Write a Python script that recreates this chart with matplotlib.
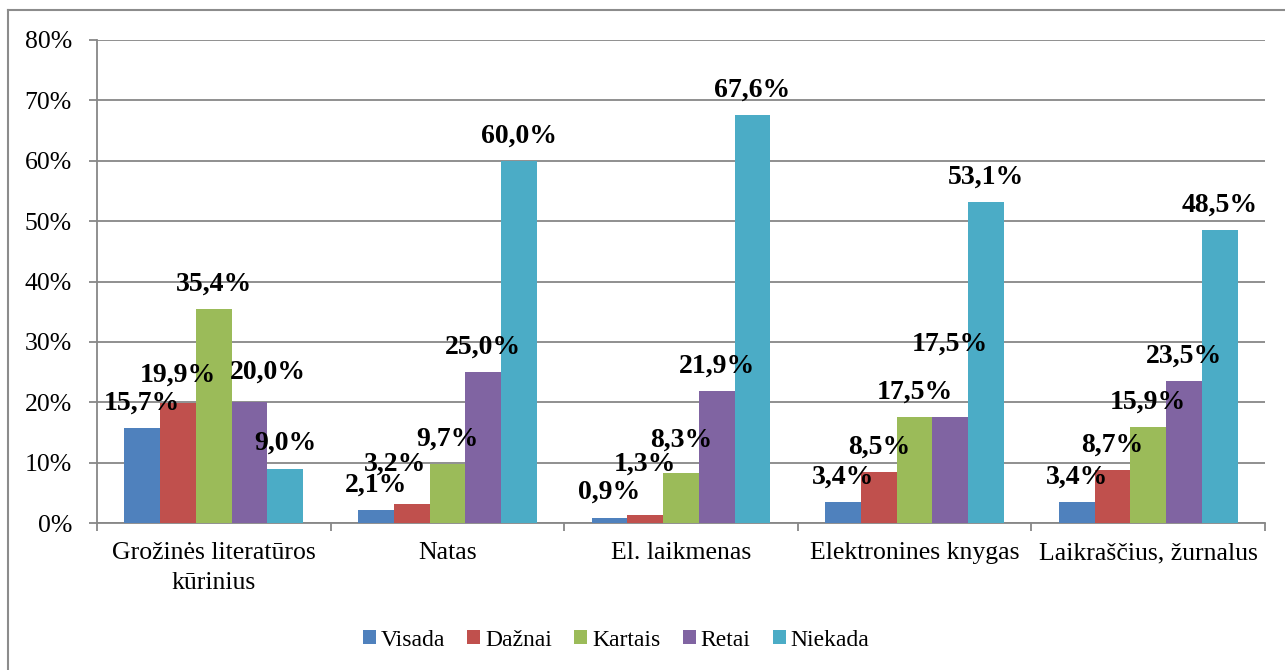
import matplotlib
matplotlib.use("Agg")
import matplotlib.pyplot as plt
import numpy as np
from matplotlib.lines import Line2D
from matplotlib.ticker import FuncFormatter

categories = ["Grožinės literatūros\nkūrinius", "Natas", "El. laikmenas",
              "Elektronines knygas", "Laikraščius, žurnalus"]
series = ["Visada", "Dažnai", "Kartais", "Retai", "Niekada"]
visada = [15.7, 2.1, 0.9, 3.4, 3.4]
daznai = [19.9, 3.2, 1.3, 8.5, 8.7]
kartais = [35.4, 9.7, 8.3, 17.5, 15.9]
retai = [20.0, 25.0, 21.9, 17.5, 23.5]
niekada = [9.0, 60.0, 67.6, 53.1, 48.5]
values = [visada, daznai, kartais, retai, niekada]
colors = ["#4F81BD", "#C0504D", "#9BBB59", "#8064A2", "#4BACC6"]

# label nudges in pixels (series index, category index) -> (dx, dy)
nudges = {(1, 1): (-17, 15), (1, 2): (0, 26), (2, 2): (0, 8), (3, 3): (0, 48),
          (1, 0): (0, 3), (3, 0): (18, 5)}

plt.rcParams['font.family'] = ['Liberation Serif', 'DejaVu Serif']
W, H = 1285, 670
fig = plt.figure(figsize=(W / 100, H / 100), dpi=100)
ax = fig.add_axes([97 / W, (H - 523) / H, (1265 - 97) / W, (523 - 40) / H])

x = np.arange(len(categories))
bw = 0.153
fs = 18.5
lfs = 20
for i, (name, vals) in enumerate(zip(series, values)):
    frac = np.array(vals) / 100
    pos = x + (i - 2) * bw
    ax.bar(pos, frac, bw, color=colors[i], label=name, linewidth=0, zorder=3)
    for j, (px, v) in enumerate(zip(pos, vals)):
        dx, dy = nudges.get((i, j), (0, 0))
        ax.annotate(f"{v:.1f}%".replace(".", ","), (px, v / 100),
                    xytext=(dx, 25 + dy), textcoords="offset pixels",
                    ha="center", va="center", fontsize=lfs, fontweight="bold",
                    zorder=5)

grid_c = "#878787"
ax.set_xlim(-0.5, len(categories) - 0.5)
ax.set_ylim(0, 0.8)
ax.set_yticks(np.arange(0, 0.81, 0.1))
ax.yaxis.set_major_formatter(FuncFormatter(lambda v, p: f"{v * 100:.0f}%"))
ax.grid(axis="y", color=grid_c, linewidth=1.3, zorder=0)
ax.set_xticks(x)
ax.set_xticklabels(categories, linespacing=1.45)
ax.set_xticks(np.arange(-0.5, len(categories)), minor=True)
ax.tick_params(axis="x", which="major", length=0, pad=14, labelsize=fs)
ax.tick_params(axis="x", which="minor", length=6, width=1.3, color=grid_c)
ax.tick_params(axis="y", length=6, width=1.3, color=grid_c, pad=12, labelsize=fs)
for s in ["top", "right"]:
    ax.spines[s].set_visible(False)
for s in ["left", "bottom"]:
    ax.spines[s].set_color(grid_c)
    ax.spines[s].set_linewidth(1.3)

leg = fig.legend(loc="center", bbox_to_anchor=(616 / W, 1 - 640 / H), ncol=5,
                 frameon=False, fontsize=17, handlelength=0.55, handleheight=0.55,
                 handletextpad=0.2, columnspacing=0.95)

# outer chart frame
fig.add_artist(Line2D([8 / W, 1], [1 - 9.5 / H] * 2, color="#8c8c8c", linewidth=1.5))
fig.add_artist(Line2D([8 / W] * 2, [0, 1 - 9.5 / H], color="#8c8c8c", linewidth=1.5))

fig.savefig("out.png", dpi=100)
